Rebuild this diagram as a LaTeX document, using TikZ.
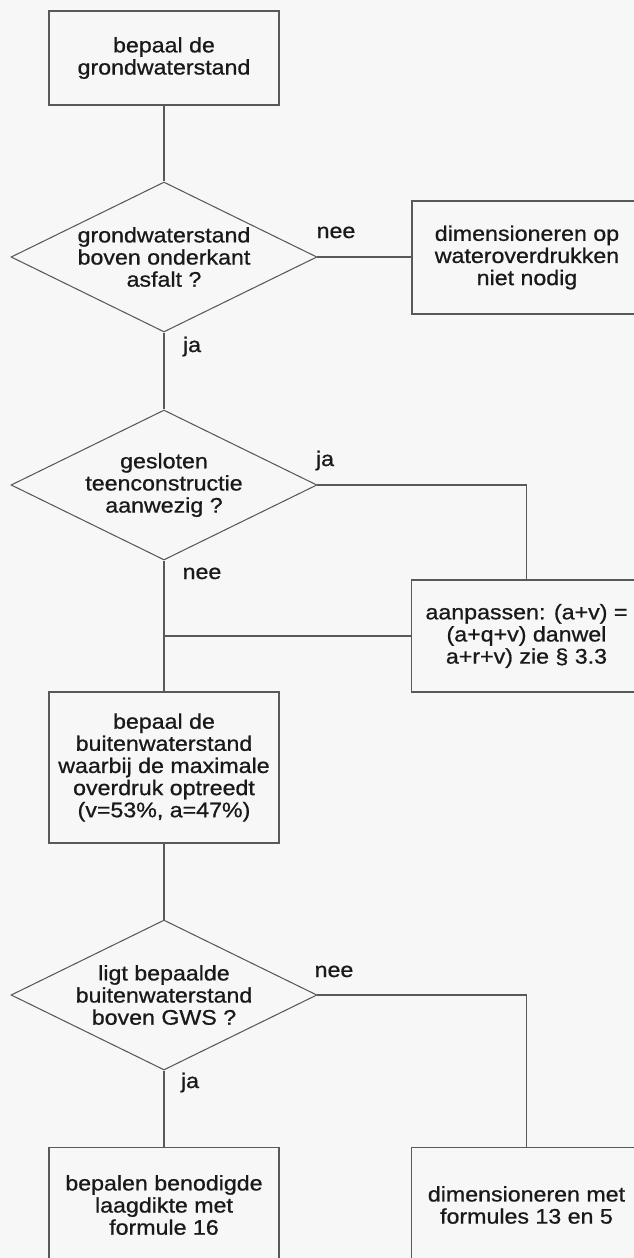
\documentclass[tikz,border=0pt]{standalone}
\usepackage{fontspec}
\setmainfont{Liberation Sans}[FakeStretch=1.1, FakeBold=0.8]
\usetikzlibrary{shapes.geometric,positioning}

\begin{document}
\begin{tikzpicture}[x=0.02cm, y=-0.02cm,
  every node/.style={font=\fontsize{12}{12.6}\selectfont, text=black!90, align=center},
  box/.style={draw=black!65, line width=0.6pt, minimum width=4.6cm},
  keuze/.style={draw=black!65, line width=0.6pt, diamond, aspect=2.04, inner sep=0pt, minimum width=6.12cm, minimum height=3cm},
  lbl/.style={anchor=base},
  line/.style={draw=black!65, line width=0.6pt}
]
  \useasboundingbox (0,0) rectangle (634,1258);
  \clip (0,0) rectangle (634,1258);
  \fill[black!3] (0,0) rectangle (634,1258);

  % hoofdlijn
  \node[box, minimum height=1.88cm] (b1) at (164,58) {bepaal de\\grondwaterstand};
  \node[keuze] (d1) at (164,257) {grondwaterstand\\boven onderkant\\asfalt ?};
  \node[keuze] (d2) at (164,485) {gesloten\\teenconstructie\\aanwezig ?};
  \node[box, minimum height=3.02cm] (b4) at (164,767.5) {bepaal de\\buitenwaterstand\\waarbij de maximale\\overdruk optreedt\\(v=53\%, a=47\%)};
  \node[keuze] (d3) at (164,995) {ligt bepaalde\\buitenwaterstand\\boven GWS ?};
  \node[box, minimum height=2.32cm] (b5) at (164,1205) {bepalen benodigde\\laagdikte met\\formule 16};

  % zijtakken
  \node[box, minimum height=2.26cm] (b2) at (527,257.5) {dimensioneren op\\wateroverdrukken\\niet nodig};
  \node[box, minimum height=2.24cm] (b3) at (526.5,636) {aanpassen: (a+v) =\\(a+q+v) danwel\\a+r+v) zie \S\ 3.3};
  \node[box, minimum height=2.32cm] (b6) at (526.5,1205) {dimensioneren met\\formules 13 en 5};

  % labels
  \node[lbl] (nee1) at (336,238) {nee};
  \node[lbl] (ja1) at (192,352) {ja};
  \node[lbl] (ja2) at (325,466) {ja};
  \node[lbl] (nee2) at (202,579) {nee};
  \node[lbl] (nee3) at (334,977) {nee};
  \node[lbl] (ja3) at (190,1088) {ja};

  \coordinate (samen) at (d2.south |- b3.west);

  \draw[line] (b1) -- (d1);
  \draw[line] (d1.east) -- (d1.east -| b2.west);
  \draw[line] (d1) -- (d2);
  \draw[line] (d2.east) -| (b3.north);
  \draw[line] (d2) -- (b4);
  \draw[line] (b3.west) -- (samen);
  \draw[line] (b4) -- (d3);
  \draw[line] (d3) -- (b5);
  \draw[line] (d3.east) -| (b6.north);
\end{tikzpicture}
\end{document}
